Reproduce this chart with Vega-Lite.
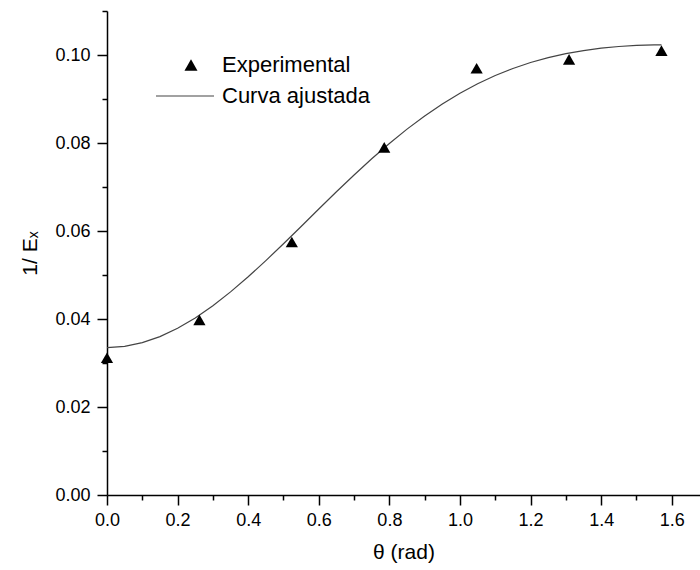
{
  "$schema": "https://vega.github.io/schema/vega-lite/v6.json",
  "width": 593,
  "height": 484,
  "autosize": {"type": "none"},
  "padding": {"left": 107, "top": 11, "right": 0, "bottom": 75},
  "background": "white",
  "config": {
    "view": {"stroke": null},
    "font": "Liberation Sans",
    "axis": {"grid": false, "domainColor": "black", "tickColor": "black", "labelColor": "black", "titleColor": "black", "labelFont": "Liberation Sans", "titleFont": "Liberation Sans", "titleFontWeight": "normal", "labelFontSize": 18, "titleFontSize": 21, "domainWidth": 1.5, "tickWidth": 1.5},
    "legend": {"labelFont": "Liberation Sans", "labelFontSize": 22, "labelColor": "black", "padding": 0, "rowPadding": 0}
  },
  "datasets": {
    "exp": [
      {"theta": 0.0, "inv": 0.0312, "series": "Experimental"},
      {"theta": 0.2618, "inv": 0.0398, "series": "Experimental"},
      {"theta": 0.5236, "inv": 0.0575, "series": "Experimental"},
      {"theta": 0.7854, "inv": 0.0790, "series": "Experimental"},
      {"theta": 1.0472, "inv": 0.0970, "series": "Experimental"},
      {"theta": 1.309, "inv": 0.0990, "series": "Experimental"},
      {"theta": 1.5708, "inv": 0.1010, "series": "Experimental"}
    ],
    "fit": [
      {"theta": 0.0, "inv": 0.03350, "fit": "Curva ajustada"},
      {"theta": 0.05, "inv": 0.03378, "fit": "Curva ajustada"},
      {"theta": 0.10, "inv": 0.03462, "fit": "Curva ajustada"},
      {"theta": 0.15, "inv": 0.03600, "fit": "Curva ajustada"},
      {"theta": 0.20, "inv": 0.03788, "fit": "Curva ajustada"},
      {"theta": 0.25, "inv": 0.04024, "fit": "Curva ajustada"},
      {"theta": 0.30, "inv": 0.04302, "fit": "Curva ajustada"},
      {"theta": 0.35, "inv": 0.04616, "fit": "Curva ajustada"},
      {"theta": 0.40, "inv": 0.04959, "fit": "Curva ajustada"},
      {"theta": 0.45, "inv": 0.05327, "fit": "Curva ajustada"},
      {"theta": 0.50, "inv": 0.05710, "fit": "Curva ajustada"},
      {"theta": 0.55, "inv": 0.06103, "fit": "Curva ajustada"},
      {"theta": 0.60, "inv": 0.06499, "fit": "Curva ajustada"},
      {"theta": 0.65, "inv": 0.06891, "fit": "Curva ajustada"},
      {"theta": 0.70, "inv": 0.07274, "fit": "Curva ajustada"},
      {"theta": 0.75, "inv": 0.07641, "fit": "Curva ajustada"},
      {"theta": 0.80, "inv": 0.07990, "fit": "Curva ajustada"},
      {"theta": 0.85, "inv": 0.08315, "fit": "Curva ajustada"},
      {"theta": 0.90, "inv": 0.08615, "fit": "Curva ajustada"},
      {"theta": 0.95, "inv": 0.08887, "fit": "Curva ajustada"},
      {"theta": 1.00, "inv": 0.09131, "fit": "Curva ajustada"},
      {"theta": 1.05, "inv": 0.09346, "fit": "Curva ajustada"},
      {"theta": 1.10, "inv": 0.09533, "fit": "Curva ajustada"},
      {"theta": 1.15, "inv": 0.09694, "fit": "Curva ajustada"},
      {"theta": 1.20, "inv": 0.09829, "fit": "Curva ajustada"},
      {"theta": 1.25, "inv": 0.09940, "fit": "Curva ajustada"},
      {"theta": 1.30, "inv": 0.10030, "fit": "Curva ajustada"},
      {"theta": 1.35, "inv": 0.10101, "fit": "Curva ajustada"},
      {"theta": 1.40, "inv": 0.10155, "fit": "Curva ajustada"},
      {"theta": 1.45, "inv": 0.10193, "fit": "Curva ajustada"},
      {"theta": 1.50, "inv": 0.10218, "fit": "Curva ajustada"},
      {"theta": 1.55, "inv": 0.10229, "fit": "Curva ajustada"},
      {"theta": 1.5708, "inv": 0.10230, "fit": "Curva ajustada"}
    ]
  },
  "resolve": {"axis": {"x": "independent", "y": "independent"}},
  "layer": [
    {
      "data": {"name": "fit"},
      "mark": {"type": "line", "strokeWidth": 1.2, "clip": true},
      "encoding": {
        "x": {"field": "theta", "type": "quantitative", "scale": {"domain": [0, 1.68], "nice": false, "zero": false},
          "axis": {"orient": "bottom", "title": "θ (rad)", "values": [0, 0.2, 0.4, 0.6, 0.8, 1.0, 1.2, 1.4, 1.6], "format": ".1f", "tickSize": 10, "labelPadding": 6, "titlePadding": 12, "labelFlush": false}},
        "y": {"field": "inv", "type": "quantitative", "scale": {"domain": [0, 0.11], "nice": false, "zero": false},
          "axis": {"orient": "left", "title": "1/ Eₓ", "values": [0, 0.02, 0.04, 0.06, 0.08, 0.10], "format": ".2f", "tickSize": 10, "labelPadding": 7, "titlePadding": 14, "labelFlush": false}},
        "color": {"field": "fit", "type": "nominal", "scale": {"range": ["#444444"]},
          "legend": {"title": null, "orient": "none", "legendX": 48, "legendY": 55, "symbolType": "stroke", "symbolSize": 3364, "symbolStrokeWidth": 1.2, "labelOffset": 7}}
      }
    },
    {
      "data": {"name": "exp"},
      "mark": {"type": "point", "filled": true, "opacity": 1, "color": "black", "size": 150},
      "encoding": {
        "x": {"field": "theta", "type": "quantitative", "axis": {"orient": "bottom", "title": null, "labels": false, "domain": false, "values": [0.1, 0.3, 0.5, 0.7, 0.9, 1.1, 1.3, 1.5], "tickSize": 5}},
        "y": {"field": "inv", "type": "quantitative", "axis": {"orient": "left", "title": null, "labels": false, "domain": false, "values": [0.01, 0.03, 0.05, 0.07, 0.09, 0.11], "tickSize": 5}},
        "shape": {"field": "series", "type": "nominal", "scale": {"range": ["triangle-up"]},
          "legend": {"title": null, "orient": "none", "legendX": 73, "legendY": 43, "symbolSize": 170, "symbolFillColor": "black", "symbolStrokeColor": "black", "labelOffset": 20}}
      }
    }
  ]
}
